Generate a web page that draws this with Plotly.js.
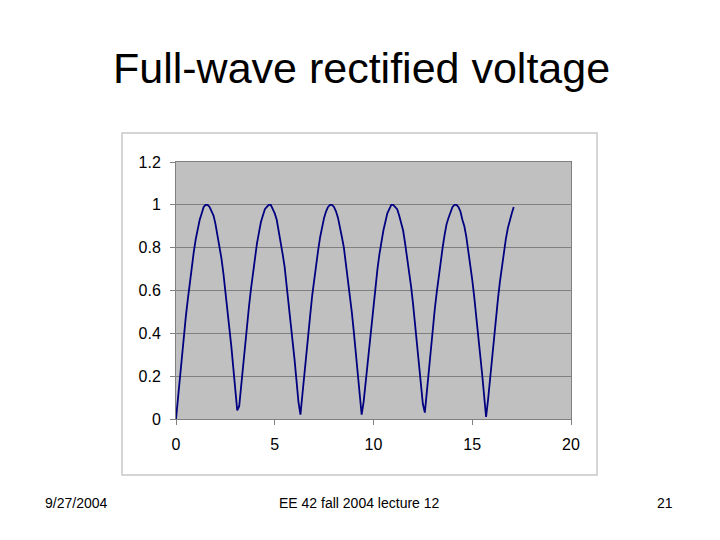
<!DOCTYPE html>
<html>
<head>
<meta charset="utf-8">
<script src="https://cdn.plot.ly/plotly-3.0.1.min.js"></script>
<style>html,body{margin:0;padding:0;background:#fff;}#chart{width:720px;height:540px;}</style>
</head>
<body>
<div id="chart"></div>
<script>
const timeValues = [
0.0,0.1,0.2,0.3,0.4,0.5,0.6,0.7,0.8,0.9,
1.0,1.1,1.2,1.3,1.4,1.5,1.6,1.7,1.8,1.9,
2.0,2.1,2.2,2.3,2.4,2.5,2.6,2.7,2.8,2.9,
3.0,3.1,3.2,3.3,3.4,3.5,3.6,3.7,3.8,3.9,
4.0,4.1,4.2,4.3,4.4,4.5,4.6,4.7,4.8,4.9,
5.0,5.1,5.2,5.3,5.4,5.5,5.6,5.7,5.8,5.9,
6.0,6.1,6.2,6.3,6.4,6.5,6.6,6.7,6.8,6.9,
7.0,7.1,7.2,7.3,7.4,7.5,7.6,7.7,7.8,7.9,
8.0,8.1,8.2,8.3,8.4,8.5,8.6,8.7,8.8,8.9,
9.0,9.1,9.2,9.3,9.4,9.5,9.6,9.7,9.8,9.9,
10.0,10.1,10.2,10.3,10.4,10.5,10.6,10.7,10.8,10.9,
11.0,11.1,11.2,11.3,11.4,11.5,11.6,11.7,11.8,11.9,
12.0,12.1,12.2,12.3,12.4,12.5,12.6,12.7,12.8,12.9,
13.0,13.1,13.2,13.3,13.4,13.5,13.6,13.7,13.8,13.9,
14.0,14.1,14.2,14.3,14.4,14.5,14.6,14.7,14.8,14.9,
15.0,15.1,15.2,15.3,15.4,15.5,15.6,15.7,15.8,15.9,
16.0,16.1,16.2,16.3,16.4,16.5,16.6,16.7,16.8,16.9,
17.0,17.1
];
const voltageValues = [
0.00,0.10,0.20,0.30,0.39,0.48,0.56,0.64,0.72,0.78,
0.84,0.89,0.93,0.96,0.99,1.00,1.00,0.99,0.97,0.95,
0.91,0.86,0.81,0.75,0.68,0.60,0.52,0.43,0.34,0.24,
0.14,0.04,0.06,0.16,0.26,0.35,0.44,0.53,0.61,0.69,
0.76,0.82,0.87,0.92,0.95,0.98,0.99,1.00,1.00,0.98,
0.96,0.93,0.88,0.83,0.77,0.71,0.63,0.55,0.46,0.37,
0.28,0.18,0.08,0.02,0.12,0.22,0.31,0.40,0.49,0.58,
0.66,0.73,0.79,0.85,0.90,0.94,0.97,0.99,1.00,1.00,
0.99,0.97,0.94,0.90,0.85,0.80,0.73,0.66,0.58,0.50,
0.41,0.32,0.22,0.12,0.02,0.08,0.17,0.27,0.37,0.46,
0.54,0.63,0.70,0.77,0.83,0.88,0.92,0.96,0.98,1.00,
1.00,0.99,0.98,0.95,0.92,0.88,0.82,0.76,0.69,0.62,
0.54,0.45,0.36,0.26,0.17,0.07,0.03,0.13,0.23,0.33,
0.42,0.51,0.59,0.67,0.74,0.80,0.86,0.91,0.94,0.97,
0.99,1.00,1.00,0.99,0.97,0.93,0.90,0.85,0.79,0.72,
0.65,0.57,0.49,0.40,0.30,0.21,0.11,0.01,0.09,0.19,
0.29,0.38,0.47,0.56,0.64,0.71,0.78,0.84,0.89,0.93,
0.96,0.99
];
const xTickValues = [0, 5, 10, 15, 20];
const yTickValues = [0, 0.2, 0.4, 0.6, 0.8, 1, 1.2];
const yTickLabels = ["0", "0.2", "0.4", "0.6", "0.8", "1", "1.2"];
const slideTitle = "Full-wave rectified voltage";
const footerDate = "9/27/2004";
const footerCenter = "EE 42 fall 2004 lecture 12";
const footerPage = "21";

const trace = {
  x: timeValues,
  y: voltageValues,
  type: "scatter",
  mode: "lines",
  line: {color: "#000080", width: 1.8},
  hoverinfo: "skip",
  showlegend: false
};

const font = "Liberation Sans, Arial, sans-serif";

const layout = {
  width: 720,
  height: 540,
  margin: {l: 176, r: 149, t: 162, b: 121, pad: 0},
  paper_bgcolor: "#ffffff",
  plot_bgcolor: "#c0c0c0",
  font: {family: font, color: "#000000"},
  xaxis: {
    range: [0, 20],
    tickvals: xTickValues,
    ticktext: xTickValues.map(String),
    showgrid: false,
    zeroline: false,
    showline: true,
    linecolor: "#808080",
    linewidth: 1,
    mirror: true,
    ticks: "outside",
    ticklen: 5,
    tickcolor: "#808080",
    ticklabelstandoff: 6,
    tickfont: {family: font, size: 16, color: "#000000"},
    fixedrange: true
  },
  yaxis: {
    range: [0, 1.2],
    tickvals: yTickValues,
    ticktext: yTickLabels,
    showgrid: true,
    gridcolor: "#808080",
    gridwidth: 1,
    zeroline: false,
    showline: true,
    linecolor: "#808080",
    linewidth: 1,
    mirror: true,
    ticks: "outside",
    ticklen: 5,
    tickcolor: "#808080",
    ticklabelstandoff: 6,
    tickfont: {family: font, size: 16, color: "#000000"},
    fixedrange: true
  },
  shapes: [{
    type: "rect",
    xref: "paper", yref: "paper",
    x0: -0.1367, x1: 1.0658, y0: -0.2179, y1: 1.1128,
    line: {color: "#c8c8c8", width: 1.5},
    fillcolor: "rgba(0,0,0,0)",
    layer: "below"
  }],
  annotations: [
    {text: slideTitle, xref: "paper", yref: "paper",
     x: (361 - 176) / 395, y: (419 - 68) / 257, xanchor: "center", yanchor: "middle",
     showarrow: false, font: {family: font, size: 43, color: "#000000"}},
    {text: footerDate, xref: "paper", yref: "paper",
     x: (43 - 176) / 395, y: (419 - 503) / 257, xanchor: "left", yanchor: "middle",
     showarrow: false, font: {family: font, size: 14, color: "#000000"}},
    {text: footerCenter, xref: "paper", yref: "paper",
     x: (359 - 176) / 395, y: (419 - 503) / 257, xanchor: "center", yanchor: "middle",
     showarrow: false, font: {family: font, size: 14, color: "#000000"}},
    {text: footerPage, xref: "paper", yref: "paper",
     x: (675 - 176) / 395, y: (419 - 503) / 257, xanchor: "right", yanchor: "middle",
     showarrow: false, font: {family: font, size: 14, color: "#000000"}}
  ]
};

Plotly.newPlot("chart", [trace], layout, {staticPlot: true, displayModeBar: false});
</script>
</body>
</html>
